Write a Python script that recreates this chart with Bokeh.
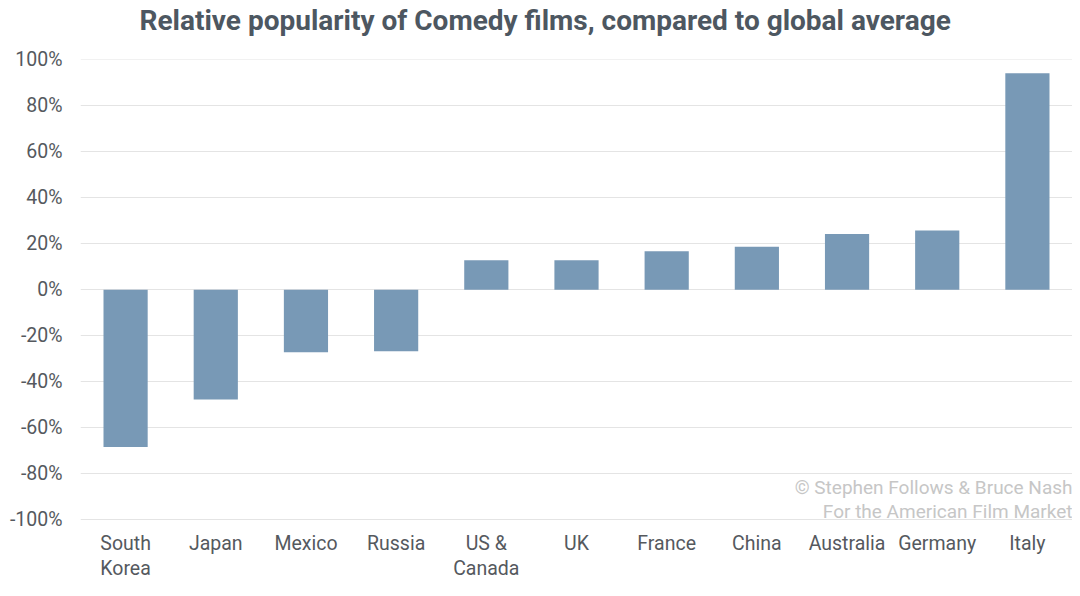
from bokeh.plotting import figure
from bokeh.models import ColumnDataSource, Label, FixedTicker, CustomJSTickFormatter, CategoricalAxis, Title
from bokeh.embed import file_html
from bokeh.resources import INLINE

title_text = "Relative popularity of Comedy films, compared to global average"
countries = ["South Korea", "Japan", "Mexico", "Russia", "US & Canada", "UK",
             "France", "China", "Australia", "Germany", "Italy"]
label_line1 = ["South", "Japan", "Mexico", "Russia", "US &", "UK",
               "France", "China", "Australia", "Germany", "Italy"]
label_line2 = ["Korea", "", "", "", "Canada", "", "", "", "", "", ""]
values = [-68.5, -47.8, -27.2, -26.8, 12.8, 12.8, 16.7, 18.7, 24.2, 25.7, 94.2]
y_ticks = [-100, -80, -60, -40, -20, 0, 20, 40, 60, 80, 100]
y_min, y_max = -100.5, 100.2

FONT = "Roboto"
LABEL_COLOR = "#55595e"
FS = "19.5px"

src = ColumnDataSource(dict(country=countries, value=values))

p = figure(x_range=countries, y_range=(y_min, y_max), width=1072, height=588,
           output_backend="svg", toolbar_location=None, title=None,
           min_border_left=80, min_border_right=0, min_border_bottom=68, min_border_top=59)

p.vbar(x="country", top="value", bottom=0, width=0.49, source=src,
       fill_color="#7899b6", line_color=None)

# spacer between title and plot area, then the title itself
p.add_layout(Title(text=" ", text_font_size="19px", standoff=0), "above")
p.add_layout(Title(text=title_text, align="left", offset=59, text_font=FONT,
                   text_font_size="28px", text_font_style="bold", text_line_height=1.0,
                   text_color="#4d5761", standoff=0), "above")

p.outline_line_color = None
p.xgrid.grid_line_color = None
p.ygrid.grid_line_color = "#e4e4e4"
p.ygrid.grid_line_width = 1
p.yaxis.ticker = FixedTicker(ticks=y_ticks)
p.yaxis.formatter = CustomJSTickFormatter(code="return tick.toFixed(0) + '%';")

ax2 = CategoricalAxis()
p.add_layout(ax2, "below")

for ax in (p.xaxis[0], p.yaxis[0], ax2):
    ax.axis_line_color = None
    ax.major_tick_line_color = None
    ax.minor_tick_line_color = None
    ax.major_label_text_font = FONT
    ax.major_label_text_font_size = FS
    ax.major_label_text_color = LABEL_COLOR

p.yaxis.major_label_standoff = 12
p.xaxis[0].major_label_standoff = 5
p.xaxis[0].formatter = CustomJSTickFormatter(args=dict(m=dict(zip(countries, label_line1))),
                                             code="return m[tick];")
ax2.major_label_standoff = -7
ax2.formatter = CustomJSTickFormatter(args=dict(m=dict(zip(countries, label_line2))),
                                      code="return m[tick];")

wm_color = "#c6c6c6"
p.add_layout(Label(x=len(countries), y=-86, text="© Stephen Follows & Bruce Nash",
                   text_align="right", text_baseline="middle", text_font=FONT,
                   text_font_size="19px", text_color=wm_color))
p.add_layout(Label(x=len(countries), y=-96.5, text="For the American Film Market",
                   text_align="right", text_baseline="middle", text_font=FONT,
                   text_font_size="19px", text_color=wm_color))

open("out.html", "w").write(file_html(p, INLINE))
